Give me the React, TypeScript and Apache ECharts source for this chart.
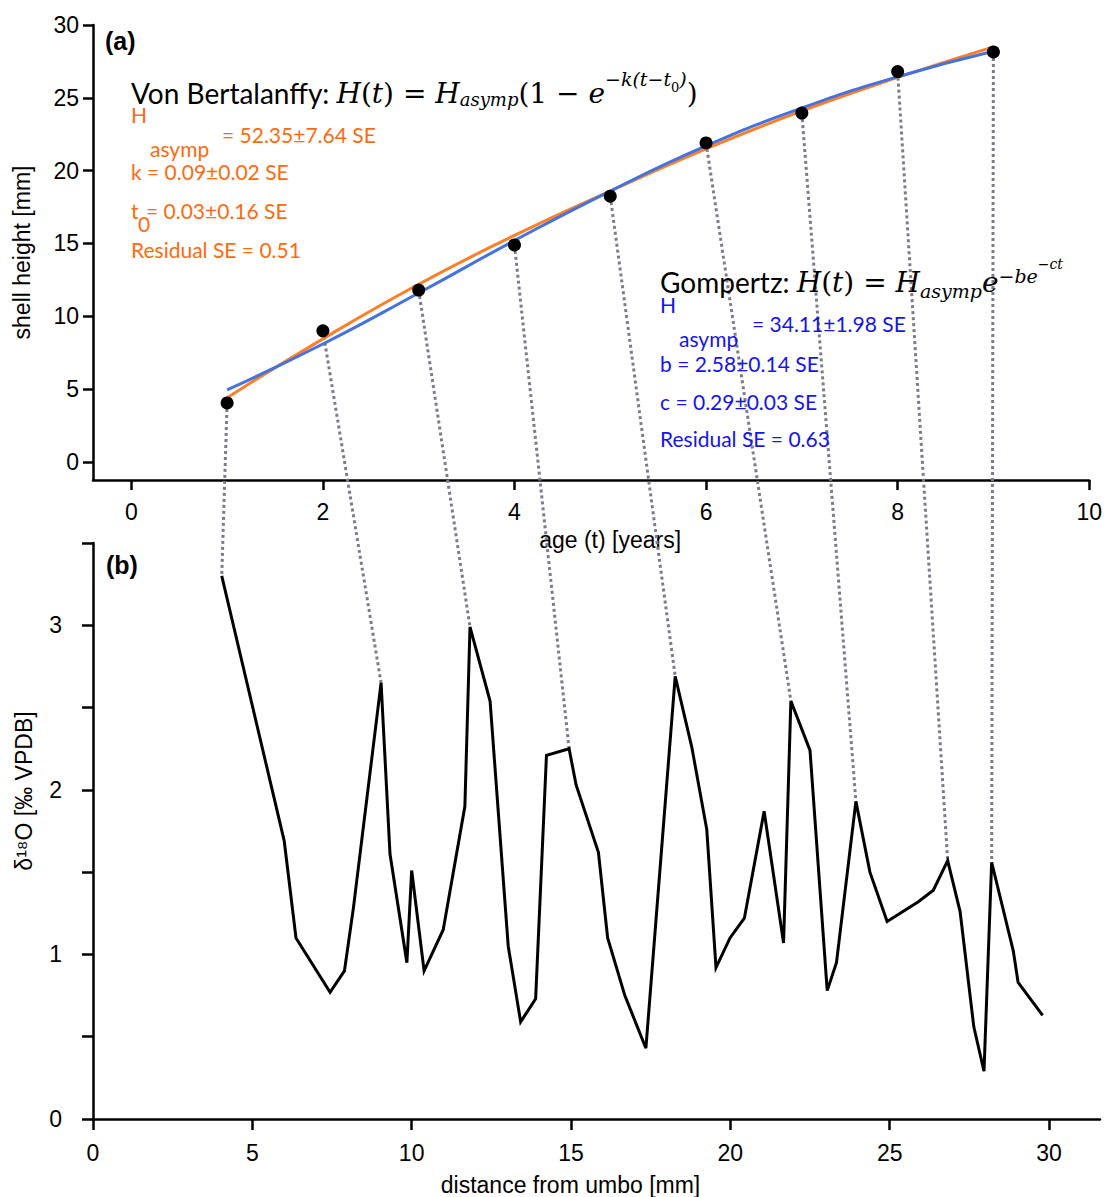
import React, { useEffect, useRef } from "react";
import * as echarts from "echarts";

// ---- Panel (a): shell height vs age ----
const ages = [1, 2, 3, 4, 5, 6, 7, 8, 9];
const heights = [4.05, 9.0, 11.8, 14.9, 18.25, 21.9, 23.95, 26.8, 28.15];
const vbFit = [4.4, 8.45, 12.2, 15.55, 18.6, 21.5, 24.1, 26.4, 28.5];
const gompFit = [4.95, 8.1, 11.6, 15.2, 18.6, 21.7, 24.3, 26.45, 28.2];
const ageTicks = [0, 2, 4, 6, 8, 10];
const heightTicks = [0, 5, 10, 15, 20, 25, 30];

// ---- Panel (b): d18O vs distance from umbo ----
const distance = [
  4.04, 6.0, 6.37, 7.44, 7.89, 8.17, 9.04, 9.32, 9.85, 10.0, 10.39, 10.99, 11.67,
  11.83, 12.46, 13.03, 13.42, 13.89, 14.23, 14.94, 15.16, 15.86, 16.15, 16.69,
  17.35, 18.27, 18.79, 19.26, 19.55, 19.99, 20.44, 21.06, 21.67, 21.9, 22.5,
  23.04, 23.33, 23.94, 24.38, 24.92, 25.9, 26.37, 26.82, 27.21, 27.64, 27.96,
  28.2, 28.88, 29.03, 29.8,
];
const delta18O = [
  3.3, 1.69, 1.1, 0.77, 0.9, 1.28, 2.65, 1.61, 0.95, 1.51, 0.9, 1.15, 1.9,
  2.99, 2.54, 1.05, 0.59, 0.73, 2.21, 2.25, 2.03, 1.62, 1.1, 0.75,
  0.43, 2.69, 2.26, 1.76, 0.92, 1.1, 1.22, 1.87, 1.07, 2.54, 2.24,
  0.78, 0.95, 1.93, 1.5, 1.2, 1.32, 1.39, 1.57, 1.26, 0.56, 0.29,
  1.56, 1.02, 0.83, 0.63,
];
const distanceTicks = [0, 5, 10, 15, 20, 25, 30];
// index into distance/delta18O of the annual growth line linked to each age
const linkIndex = [0, 6, 13, 19, 25, 33, 37, 42, 46];

const ORANGE_LINE = "#FF7F27";
const BLUE_LINE = "#4472E0";
const ORANGE_TEXT = "#FF6A10";
const BLUE_TEXT = "#1414F0";
const AXIS_FONT = "'Liberation Sans', Arial, sans-serif";
const NOTE_FONT = "Lato, 'Open Sans', sans-serif";
const MATH_FONT = "'DejaVu Serif', 'Liberation Serif', serif";

function axisCommon() {
  return {
    axisLine: { onZero: false, lineStyle: { color: "#000", width: 2.5 } },
    axisTick: { inside: false, length: 10, lineStyle: { color: "#000", width: 2.5 } },
    splitLine: { show: false },
    axisLabel: { color: "#000", fontSize: 23, fontFamily: AXIS_FONT },
    nameTextStyle: { color: "#000", fontSize: 23, fontFamily: AXIS_FONT },
  };
}

function noteText(text: string, x: number, y: number, color: string, size = 21) {
  return {
    type: "text",
    x,
    y,
    z: 10,
    style: {
      text,
      fill: color,
      fontSize: size,
      fontFamily: NOTE_FONT,
      verticalAlign: "middle",
      align: "left",
    },
  };
}

function mathRich(color: string, size: number, headSize: number) {
  return {
    t: { fontFamily: NOTE_FONT, fontSize: headSize, color, verticalAlign: "middle", lineHeight: 40 },
    m: { fontFamily: MATH_FONT, fontStyle: "italic", fontSize: size, color, verticalAlign: "middle", lineHeight: 40 },
    r: { fontFamily: MATH_FONT, fontSize: size, color, verticalAlign: "middle", lineHeight: 40 },
  };
}

export default function App() {
  const ref = useRef<HTMLDivElement>(null);

  useEffect(() => {
    const chart = echarts.init(ref.current!, null, { renderer: "svg" });
    const c1 = axisCommon();
    const c2 = axisCommon();
    const c3 = axisCommon();
    const c4 = axisCommon();

    chart.setOption({
      animation: false,
      backgroundColor: "#fff",
      grid: [
        { left: 93, right: 13, top: 25, bottom: 717, containLabel: false },
        { left: 93, right: 5, top: 543, bottom: 78, containLabel: false },
      ],
      xAxis: [
        {
          ...c1,
          type: "value",
          gridIndex: 0,
          min: -0.4,
          max: 10,
          axisTick: { ...c1.axisTick, customValues: ageTicks },
          axisLabel: { ...c1.axisLabel, margin: 20, customValues: ageTicks },
          name: "age (t) [years]",
          nameLocation: "middle",
          nameGap: 48,
          nameTextStyle: { ...c1.nameTextStyle, padding: [0, 0, 0, 38] },
        },
        {
          ...c2,
          type: "value",
          gridIndex: 1,
          min: 0,
          max: 31.6,
          axisTick: { ...c2.axisTick, length: 11, customValues: distanceTicks },
          axisLabel: { ...c2.axisLabel, margin: 22, customValues: distanceTicks },
          name: "distance from umbo [mm]",
          nameLocation: "middle",
          nameGap: 54,
          nameTextStyle: { ...c2.nameTextStyle, padding: [0, 52, 0, 0] },
        },
      ],
      yAxis: [
        {
          ...c3,
          type: "value",
          gridIndex: 0,
          min: -1.24,
          max: 30,
          axisTick: { ...c3.axisTick, customValues: heightTicks },
          axisLabel: { ...c3.axisLabel, margin: 14, customValues: heightTicks },
          name: "shell height [mm]",
          nameLocation: "middle",
          nameGap: 60,
        },
        {
          ...c4,
          type: "value",
          gridIndex: 1,
          min: 0,
          max: 3.5,
          interval: 0.5,
          axisTick: { ...c4.axisTick, length: 11 },
          axisLabel: {
            ...c4.axisLabel,
            margin: 31,
            formatter: (v: number) => (Number.isInteger(v) ? String(v) : ""),
          },
          name: "δ¹⁸O [‰ VPDB]",
          nameLocation: "middle",
          nameGap: 58,
          nameTextStyle: { ...c4.nameTextStyle, padding: [0, 0, 0, 80] },
        },
      ],
      series: [
        {
          type: "line",
          name: "Von Bertalanffy",
          xAxisIndex: 0,
          yAxisIndex: 0,
          data: ages.map((a, i) => [a, vbFit[i]]),
          smooth: true,
          showSymbol: false,
          lineStyle: { color: ORANGE_LINE, width: 3 },
          z: 2,
        },
        {
          type: "line",
          name: "Gompertz",
          xAxisIndex: 0,
          yAxisIndex: 0,
          data: ages.map((a, i) => [a, gompFit[i]]),
          smooth: true,
          showSymbol: false,
          lineStyle: { color: BLUE_LINE, width: 3 },
          z: 3,
        },
        {
          type: "scatter",
          name: "observed",
          xAxisIndex: 0,
          yAxisIndex: 0,
          data: ages.map((a, i) => [a, heights[i]]),
          symbolSize: 13,
          itemStyle: { color: "#000", opacity: 1 },
          z: 5,
        },
        {
          type: "line",
          name: "d18O",
          xAxisIndex: 1,
          yAxisIndex: 1,
          data: distance.map((d, i) => [d, delta18O[i]]),
          showSymbol: false,
          lineStyle: { color: "#000", width: 3, join: "miter" },
          z: 3,
        },
      ],
    });

    const links = linkIndex.map((j, i) => {
      const p1 = chart.convertToPixel({ gridIndex: 0 }, [ages[i], heights[i]]) as number[];
      const p2 = chart.convertToPixel({ gridIndex: 1 }, [distance[j], delta18O[j]]) as number[];
      return {
        type: "line",
        silent: true,
        z: 1,
        shape: { x1: p1[0], y1: p1[1], x2: p2[0], y2: p2[1] },
        style: { stroke: "#7b7b8c", lineWidth: 3, lineDash: [3, 3] },
      };
    });

    const texts = [
      {
        type: "text",
        x: 105,
        y: 41,
        z: 10,
        style: { text: "(a)", fontSize: 25, fontWeight: "bold", fontFamily: AXIS_FONT, fill: "#000", verticalAlign: "middle" },
      },
      {
        type: "text",
        x: 106,
        y: 565,
        z: 10,
        style: { text: "(b)", fontSize: 25, fontWeight: "bold", fontFamily: AXIS_FONT, fill: "#000", verticalAlign: "middle" },
      },
      // Von Bertalanffy
      {
        type: "text",
        x: 131,
        y: 73,
        z: 10,
        style: {
          text:
            "{t|Von Bertalanffy: }{m|H}{r|(}{m|t}{r|) = }{m|H}{sub|asymp}{r|(1 − }{m|e}{sup|−k(t−t}{ss|0}{sup|)}{r|)}",
          verticalAlign: "top",
          align: "left",
          rich: {
            ...mathRich(ORANGE_TEXT, 28, 28),
            sub: { fontFamily: MATH_FONT, fontStyle: "italic", fontSize: 18, color: ORANGE_TEXT, verticalAlign: "bottom", height: 28 },
            sup: { fontFamily: MATH_FONT, fontStyle: "italic", fontSize: 19, color: ORANGE_TEXT, verticalAlign: "top", height: 12 },
            ss: { fontFamily: MATH_FONT, fontSize: 13, color: ORANGE_TEXT, verticalAlign: "top", height: 28 },
          },
        },
      },
      noteText("H", 131, 114, ORANGE_TEXT),
      noteText("= 52.35±7.64 SE", 222, 134, ORANGE_TEXT),
      noteText("asymp", 150, 148, ORANGE_TEXT),
      noteText("k = 0.09±0.02 SE", 131, 171, ORANGE_TEXT),
      noteText("t", 131, 210, ORANGE_TEXT),
      noteText("0", 138, 223, ORANGE_TEXT),
      noteText("= 0.03±0.16 SE", 146, 210, ORANGE_TEXT),
      noteText("Residual SE = 0.51", 131, 249, ORANGE_TEXT),
      // Gompertz
      {
        type: "text",
        x: 660,
        y: 262,
        z: 10,
        style: {
          text: "{t|Gompertz: }{m|H}{r|(}{m|t}{r|) = }{m|H}{sub|asymp}{m|e}{sup|−be}{ss|−ct}",
          verticalAlign: "top",
          align: "left",
          rich: {
            ...mathRich(BLUE_TEXT, 28, 28),
            sub: { fontFamily: MATH_FONT, fontStyle: "italic", fontSize: 19, color: BLUE_TEXT, verticalAlign: "bottom", height: 22 },
            sup: { fontFamily: MATH_FONT, fontStyle: "italic", fontSize: 19, color: BLUE_TEXT, verticalAlign: "top", height: 28 },
            ss: { fontFamily: MATH_FONT, fontStyle: "italic", fontSize: 14, color: BLUE_TEXT, verticalAlign: "top", height: 4 },
          },
        },
      },
      noteText("H", 660, 304, BLUE_TEXT),
      noteText("= 34.11±1.98 SE", 752, 323, BLUE_TEXT),
      noteText("asymp", 679, 338, BLUE_TEXT),
      noteText("b = 2.58±0.14 SE", 660, 363, BLUE_TEXT),
      noteText("c = 0.29±0.03 SE", 660, 401, BLUE_TEXT),
      noteText("Residual SE = 0.63", 660, 438, BLUE_TEXT),
    ];

    chart.setOption({ graphic: [...links, ...texts] });

    return () => chart.dispose();
  }, []);

  return (
    <div
      ref={ref}
      style={{ position: "absolute", left: 0, top: 0, width: 1105, height: 1197 }}
    />
  );
}
